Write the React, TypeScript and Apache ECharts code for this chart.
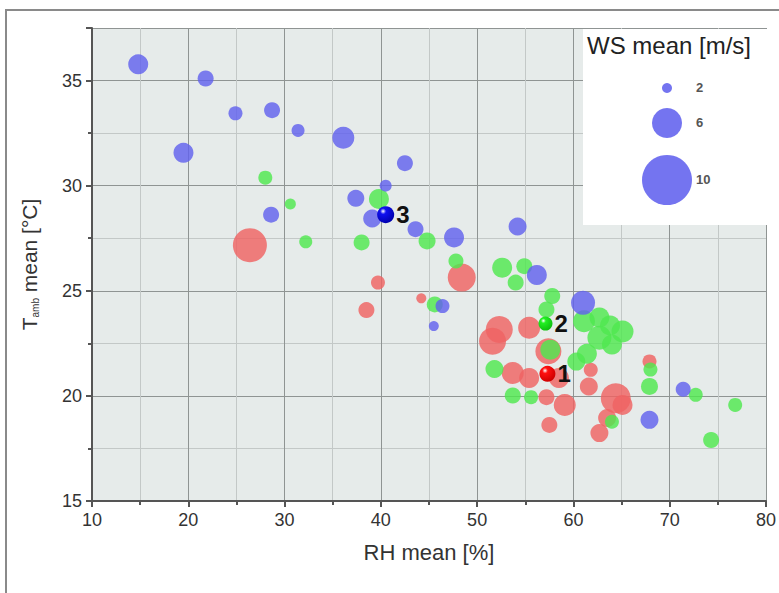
import React, { useEffect, useRef } from "react";
import * as echarts from "echarts";

// [RH mean %, T mean °C, WS mean m/s]
const bluePoints: number[][] = [
  [14.8, 35.77, 4], [21.8, 35.1, 3.2], [24.9, 33.44, 2.8], [28.7, 33.59, 3.2],
  [31.4, 32.63, 2.6], [19.5, 31.56, 4], [36.1, 32.28, 4.4], [28.6, 28.62, 3.2],
  [42.5, 31.07, 3.2], [40.5, 30.0, 2.4], [37.4, 29.4, 3.4], [39.1, 28.44, 3.6],
  [43.6, 27.93, 3.2], [47.6, 27.54, 4], [54.2, 28.06, 3.6], [56.2, 25.75, 4],
  [46.4, 24.27, 2.8], [45.5, 23.32, 2], [61.0, 24.43, 4.8], [71.4, 20.32, 3],
  [67.9, 18.86, 3.6],
];
const greenPoints: number[][] = [
  [28.0, 30.38, 2.8], [30.6, 29.13, 2.2], [32.2, 27.33, 2.6], [38.0, 27.3, 3.2],
  [39.8, 29.37, 4], [44.8, 27.37, 3.4], [47.8, 26.42, 3], [52.6, 26.1, 4],
  [54.9, 26.17, 3.2], [54.0, 25.39, 3.2], [45.6, 24.35, 3.2], [57.8, 24.75, 3.2],
  [57.2, 24.11, 3.2], [57.6, 22.2, 4], [61.1, 23.55, 4.4], [62.7, 23.73, 4],
  [63.8, 23.35, 4], [65.1, 23.06, 4.4], [62.7, 22.77, 4.8], [64.0, 22.44, 4],
  [61.4, 22.0, 4], [60.3, 21.63, 3.6], [51.8, 21.28, 3.6], [53.7, 20.02, 3.2],
  [55.6, 19.94, 2.8], [68.0, 21.25, 2.8], [67.9, 20.45, 3.4], [72.7, 20.05, 2.8],
  [76.8, 19.57, 2.8], [74.3, 17.9, 3.2], [64.0, 18.77, 2.8],
];
const redPoints: number[][] = [
  [26.4, 27.17, 6.8], [39.7, 25.39, 2.8], [38.5, 24.08, 3.2], [48.4, 25.63, 5.6],
  [44.2, 24.64, 2], [52.3, 23.16, 5.4], [51.6, 22.6, 5.4], [55.4, 23.24, 4.4],
  [57.4, 22.12, 5.2], [53.7, 21.09, 4.4], [55.4, 20.85, 4], [58.5, 20.85, 4],
  [57.2, 19.94, 3.2], [59.1, 19.57, 4.4], [57.5, 18.62, 3.2], [61.8, 21.24, 2.8],
  [61.6, 20.45, 3.6], [64.4, 19.89, 6], [65.1, 19.57, 4], [63.5, 18.95, 3.6],
  [62.7, 18.23, 3.6], [67.9, 21.64, 2.8],
];
const specialRed: number[][] = [[57.3, 21.05, 3.2]];
const specialGreen: number[][] = [[57.1, 23.44, 2.8]];
const specialBlue: number[][] = [[40.5, 28.62, 3.4]];
const specialLabels = ["1", "2", "3"];
const legendWS = [2, 6, 10];
const xTicks = [10, 80, 10];
const yTicks = [15, 37.5, 5];

const sizeOf = (ws: number) => ws * 5;

const FONT = "Liberation Sans, Arial, sans-serif";

export default function App() {
  const ref = useRef<HTMLDivElement>(null);
  useEffect(() => {
    document.body.style.margin = "0";
    if (!ref.current) return;
    const chart = echarts.init(ref.current, null, { renderer: "svg" });

    const grad = (c0: string, c1: string) =>
      new echarts.graphic.RadialGradient(0.35, 0.3, 0.7, [
        { offset: 0, color: "#ffffff" },
        { offset: 0.25, color: c0 },
        { offset: 1, color: c1 },
      ]);

    const baseSeries = (data: number[][], color: string, z: number) => ({
      type: "scatter",
      data,
      z,
      symbolSize: (v: number[]) => sizeOf(v[2]),
      itemStyle: { color, opacity: 0.82 },
      emphasis: { disabled: true },
    });

    const specialSeries = (data: number[][], c0: string, c1: string, lab: string) => ({
      type: "scatter",
      data,
      z: 10,
      symbolSize: (v: number[]) => sizeOf(v[2]),
      itemStyle: { color: grad(c0, c1), opacity: 1 },
      label: {
        show: true,
        formatter: lab,
        position: "right",
        distance: 2,
        fontSize: 24,
        fontWeight: "bold",
        color: "#111",
        fontFamily: FONT,
      },
      emphasis: { disabled: true },
    });

    // legend graphic (bubble size key)
    const legendX = 667;
    const legendYs = [88, 123, 180];
    const legendGraphics: any[] = [
      {
        type: "rect",
        z: 5,
        shape: { x: 583, y: 29, width: 184, height: 196 },
        style: { fill: "#ffffff" },
      },
      {
        type: "text",
        z: 6,
        x: 587,
        y: 33,
        style: { text: "WS mean [m/s]", font: `24px ${FONT}`, fill: "#222" },
      },
    ];
    legendWS.forEach((ws, i) => {
      legendGraphics.push({
        type: "circle",
        z: 6,
        shape: { cx: legendX, cy: legendYs[i], r: sizeOf(ws) / 2 },
        style: { fill: "#6565ee", opacity: 0.9 },
      });
      legendGraphics.push({
        type: "text",
        z: 6,
        x: 696,
        y: legendYs[i] - 7,
        style: { text: String(ws), font: `bold 13px ${FONT}`, fill: "#555" },
      });
    });

    chart.setOption({
      animation: false,
      grid: {
        left: 92,
        right: 12,
        top: 28,
        bottom: 92,
        show: true,
        backgroundColor: "#e6ebea",
        borderWidth: 0,
      },
      xAxis: {
        type: "value",
        min: xTicks[0],
        max: xTicks[1],
        interval: xTicks[2],
        name: "RH mean [%]",
        nameLocation: "middle",
        nameGap: 40,
        nameTextStyle: { fontSize: 22, color: "#333", fontFamily: FONT },
        axisLine: { show: true, lineStyle: { color: "#555", width: 2 } },
        axisTick: { show: true, length: 6, lineStyle: { color: "#555", width: 2 } },
        minorTick: { show: true, splitNumber: 2, length: 4, lineStyle: { color: "#555", width: 2 } },
        axisLabel: { fontSize: 18, color: "#333", margin: 10, fontFamily: FONT },
        splitLine: { show: true, lineStyle: { color: "#8f9493", width: 1 } },
        minorSplitLine: { show: true, lineStyle: { color: "#c3c8c7", width: 1 } },
      },
      yAxis: {
        type: "value",
        min: yTicks[0],
        max: yTicks[1],
        interval: yTicks[2],
        name: "T{sub|amb} mean [°C]",
        nameLocation: "middle",
        nameGap: 52,
        nameTextStyle: {
          fontSize: 21,
          color: "#333",
          fontFamily: FONT,
          rich: {
            sub: { fontSize: 10, color: "#333", fontFamily: FONT, verticalAlign: "bottom", padding: [12, 0, 0, 0] },
          },
        },
        axisLine: { show: true, lineStyle: { color: "#555", width: 2 } },
        axisTick: { show: true, length: 6, lineStyle: { color: "#555", width: 2 } },
        minorTick: { show: true, splitNumber: 2, length: 4, lineStyle: { color: "#555", width: 2 } },
        axisLabel: {
          fontSize: 18,
          color: "#333",
          margin: 10,
          fontFamily: FONT,
          formatter: (v: number) => (v % 5 === 0 ? String(v) : ""),
        },
        splitLine: { show: true, lineStyle: { color: "#8f9493", width: 1 } },
        minorSplitLine: { show: true, lineStyle: { color: "#c3c8c7", width: 1 } },
      },
      graphic: [
        {
          type: "rect",
          z: 1,
          silent: true,
          shape: { x: 6, y: 10, width: 900, height: 800 },
          style: { fill: "none", stroke: "#8a8a8a", lineWidth: 2 },
        },
        ...legendGraphics,
      ],
      series: [
        baseSeries(redPoints, "#ef6363", 2),
        baseSeries(greenPoints, "#4fe84f", 3),
        baseSeries(bluePoints, "#6161ee", 4),
        specialSeries(specialRed, "#ff1010", "#d00000", specialLabels[0]),
        specialSeries(specialGreen, "#22f022", "#10c010", specialLabels[1]),
        specialSeries(specialBlue, "#1010f0", "#0000b0", specialLabels[2]),
      ],
    });
    return () => chart.dispose();
  }, []);
  return <div ref={ref} style={{ width: 779, height: 593 }} />;
}
